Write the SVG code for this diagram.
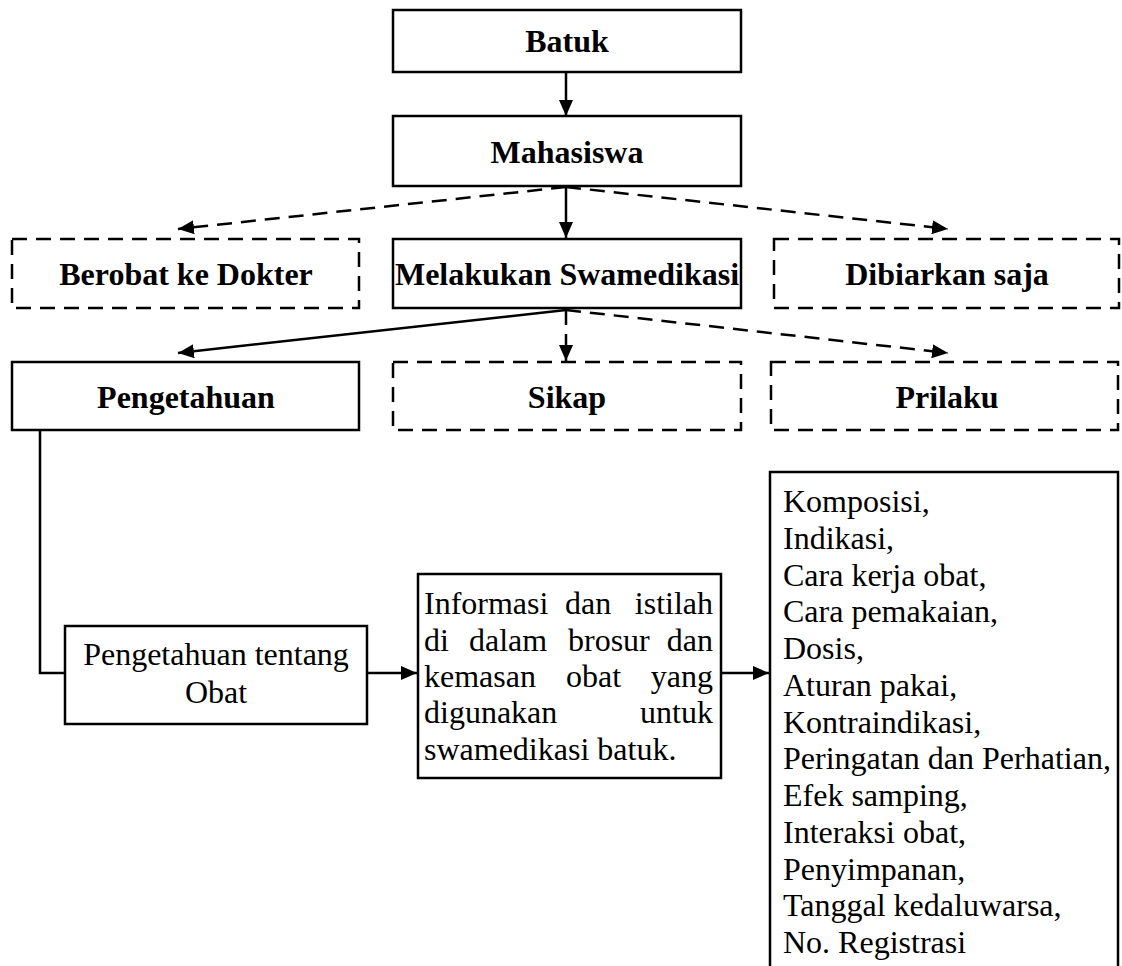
<svg xmlns="http://www.w3.org/2000/svg" width="1122" height="966" viewBox="0 0 1122 966">
<defs>
<style>
.box{fill:#fff;stroke:#000;stroke-width:2.5}
.dash{stroke-dasharray:15 9}
.b{font-family:"Liberation Serif","Times New Roman",serif;font-weight:bold;font-size:32px;fill:#000;text-anchor:middle}
.r{font-family:"Liberation Serif","Times New Roman",serif;font-size:32px;fill:#000}
.c{fill:none;stroke:#000;stroke-width:2.5}
</style>
<marker id="ah" markerUnits="userSpaceOnUse" markerWidth="17" markerHeight="14" refX="16" refY="7" orient="auto">
<path d="M0,0 L16,7 L0,14 z" fill="#000"/>
</marker>
</defs>
<rect width="1122" height="966" fill="#fff"/>
<g id="connectors">
<line class="c" x1="566" y1="72" x2="566" y2="116" marker-end="url(#ah)"/>
<line class="c dash" x1="566" y1="187" x2="178" y2="229" marker-end="url(#ah)"/>
<line class="c" x1="566" y1="187" x2="566" y2="238" marker-end="url(#ah)"/>
<line class="c dash" x1="566" y1="187" x2="948" y2="229" marker-end="url(#ah)"/>
<line class="c" x1="566" y1="310" x2="178" y2="353" marker-end="url(#ah)"/>
<line class="c dash" x1="566" y1="310" x2="566" y2="361" marker-end="url(#ah)"/>
<line class="c dash" x1="566" y1="310" x2="948" y2="353" marker-end="url(#ah)"/>
<polyline class="c" points="40,430 40,673 65,673"/>
<line class="c" x1="367" y1="673" x2="417" y2="673" marker-end="url(#ah)"/>
<line class="c" x1="721" y1="673" x2="769" y2="673" marker-end="url(#ah)"/>
</g>
<g id="batuk"><rect class="box" x="393" y="10" width="348" height="62"/><text class="b" x="567" y="52">Batuk</text></g>
<g id="mahasiswa"><rect class="box" x="393" y="116" width="348" height="70"/><text class="b" x="567" y="163">Mahasiswa</text></g>
<g id="berobat"><rect class="box dash" x="12" y="239" width="347" height="69"/><text class="b" x="186" y="285">Berobat ke Dokter</text></g>
<g id="swamedikasi"><rect class="box" x="393" y="239" width="348" height="69"/><text class="b" x="567" y="285">Melakukan Swamedikasi</text></g>
<g id="dibiarkan"><rect class="box dash" x="774" y="239" width="345" height="69"/><text class="b" x="947" y="285">Dibiarkan saja</text></g>
<g id="pengetahuan"><rect class="box" x="12" y="362" width="347" height="68"/><text class="b" x="186" y="408">Pengetahuan</text></g>
<g id="sikap"><rect class="box dash" x="393" y="362" width="348" height="68"/><text class="b" x="567" y="408">Sikap</text></g>
<g id="prilaku"><rect class="box dash" x="771" y="362" width="347" height="68"/><text class="b" x="947" y="408">Prilaku</text></g>
<g id="pengetahuan-obat"><rect class="box" x="65" y="626" width="302" height="98"/>
<text class="r" x="216" y="665" text-anchor="middle">Pengetahuan tentang</text>
<text class="r" x="216" y="703" text-anchor="middle">Obat</text></g>
<g id="informasi"><rect class="box" x="418" y="574" width="303" height="204"/>
<text class="r" y="614"><tspan x="424">Informasi</tspan><tspan x="565">dan</tspan><tspan x="713" text-anchor="end">istilah</tspan></text>
<text class="r" y="651"><tspan x="424">di</tspan><tspan x="469">dalam</tspan><tspan x="568">brosur</tspan><tspan x="713" text-anchor="end">dan</tspan></text>
<text class="r" y="687"><tspan x="424">kemasan</tspan><tspan x="566">obat</tspan><tspan x="713" text-anchor="end">yang</tspan></text>
<text class="r" y="723"><tspan x="424">digunakan</tspan><tspan x="713" text-anchor="end">untuk</tspan></text>
<text class="r" x="424" y="760">swamedikasi batuk.</text></g>
<g id="daftar"><rect class="box" x="770" y="472" width="348" height="510"/>
<text class="r" x="783" y="512">Komposisi,</text>
<text class="r" x="783" y="548.75">Indikasi,</text>
<text class="r" x="783" y="585.5">Cara kerja obat,</text>
<text class="r" x="783" y="622.25">Cara pemakaian,</text>
<text class="r" x="783" y="659">Dosis,</text>
<text class="r" x="783" y="695.75">Aturan pakai,</text>
<text class="r" x="783" y="732.5">Kontraindikasi,</text>
<text class="r" x="783" y="769.25">Peringatan dan Perhatian,</text>
<text class="r" x="783" y="806">Efek samping,</text>
<text class="r" x="783" y="842.75">Interaksi obat,</text>
<text class="r" x="783" y="879.5">Penyimpanan,</text>
<text class="r" x="783" y="916.25">Tanggal kedaluwarsa,</text>
<text class="r" x="783" y="953">No. Registrasi</text></g>
</svg>
